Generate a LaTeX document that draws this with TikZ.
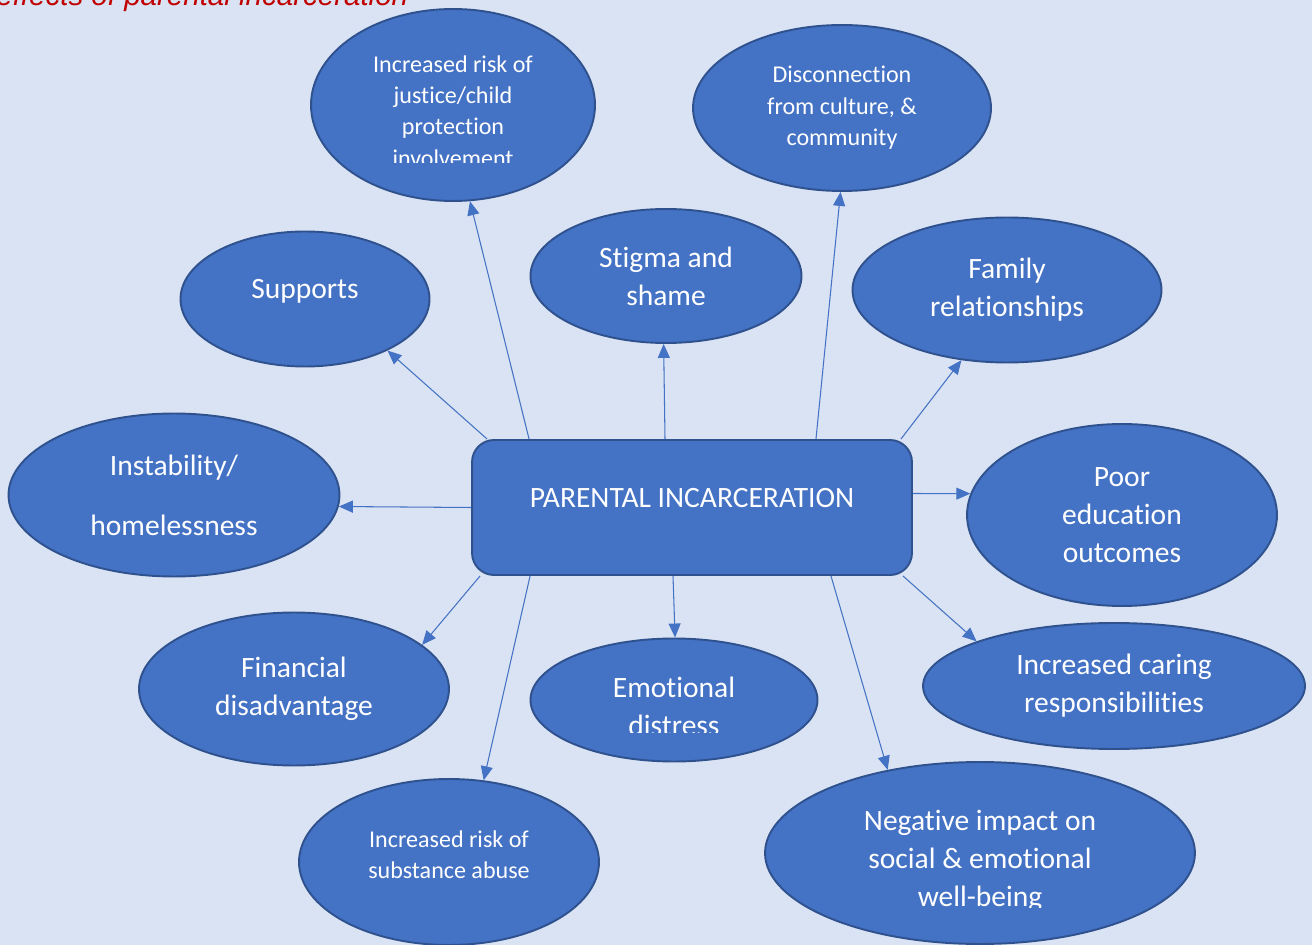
\documentclass[tikz,border=0pt]{standalone}
\usepackage{fontspec}
\setmainfont{Carlito}[Ligatures=NoCommon]
\newfontfamily\titlefont{Liberation Sans}
\usetikzlibrary{shapes.geometric,arrows.meta}

\definecolor{bgblue}{HTML}{DAE3F3}
\definecolor{shapeblue}{HTML}{4472C4}
\definecolor{edgeblue}{HTML}{2F528F}
\definecolor{titlered}{HTML}{C00000}

\begin{document}
\begin{tikzpicture}[x=0.02cm, y=-0.02cm,
    effect/.style={ellipse, draw=edgeblue, line width=1.1pt, fill=shapeblue, text=white, align=center, inner sep=0pt, font=\fontsize{16.8}{21.5}\selectfont},
    small/.style={font=\fontsize{13.7}{17.9}\selectfont},
    hub/.style={rectangle, draw=edgeblue, line width=1.1pt, fill=shapeblue, text=white, align=center, rounded corners=0.44cm, minimum width=8.8cm, minimum height=2.7cm, font=\fontsize{16.8}{21.5}\selectfont},
    cliptext/.style={text=white, align=center, inner sep=0pt},
    arrow/.style={-{Triangle[length=0.28cm, width=0.24cm]}, draw=shapeblue, line width=0.6pt}
]
    \useasboundingbox (0,0) rectangle (1312,945);
    \fill[bgblue] (0,0) rectangle (1312,945);

    % Title (cut by the page)
    \node[anchor=base west, inner sep=0pt, text=titlered, font=\titlefont\itshape\fontsize{16.8}{20}\selectfont] (title) at (-4,6) {effects of parental incarceration};

    % Top row
    \node[effect, minimum width=5.68cm, minimum height=3.84cm] (justice) at (453,105) {};
    \node[effect, small, minimum width=5.96cm, minimum height=3.32cm] (culture) at (842,108) {Disconnection\\from culture, \&\\community};
    \node[effect, minimum width=5.42cm, minimum height=2.68cm] (stigma) at (666,276) {Stigma and\\shame};
    \node[effect, minimum width=6.18cm, minimum height=2.90cm] (family) at (1007,290) {Family\\relationships};
    \node[effect, minimum width=4.98cm, minimum height=2.70cm] (supports) at (305,299) {Supports\\[-0.36cm]};

    % Middle row
    \node[effect, minimum width=6.62cm, minimum height=3.26cm] (instability) at (174,495) {Instability/\\[0.44cm]homelessness};
    \node[hub] (hub) at (692,507.5) {PARENTAL INCARCERATION\\[-0.36cm]};
    \node[effect, minimum width=6.20cm, minimum height=3.64cm] (education) at (1122,515) {Poor\\education\\outcomes};

    % Bottom rows
    \node[effect, minimum width=6.20cm, minimum height=3.06cm] (financial) at (294,689) {Financial\\disadvantage};
    \node[effect, minimum width=5.74cm, minimum height=2.46cm] (emotional) at (674,700) {};
    \node[effect, minimum width=7.64cm, minimum height=2.52cm] (caring) at (1114,686) {Increased caring\\responsibilities};
    \node[effect, small, minimum width=6.00cm, minimum height=3.32cm] (substance) at (449,862) {Increased risk of\\substance abuse\\[-0.34cm]};
    \node[effect, minimum width=8.60cm, minimum height=3.64cm] (wellbeing) at (980,853) {};

    % Texts that overflow their shapes
    \begin{scope}
        \clip (300,40) rectangle (600,163);
        \node[cliptext, small] (justicetext) at (453,111) {Increased risk of\\justice/child\\protection\\involvement};
    \end{scope}
    \begin{scope}
        \clip (520,650) rectangle (830,732);
        \node[cliptext, font=\fontsize{16.8}{21.5}\selectfont] (emotionaltext) at (674,706) {Emotional\\distress};
    \end{scope}
    \begin{scope}
        \clip (760,780) rectangle (1200,907);
        \node[cliptext, font=\fontsize{16.8}{21.5}\selectfont] (wellbeingtext) at (980,861) {Negative impact on\\social \& emotional\\well-being};
    \end{scope}

    % Arrows from the hub
    \draw[arrow] ([xshift=0.32cm]hub.north west) -- (supports.-32);
    \draw[arrow] ([xshift=1.16cm]hub.north west) -- (justice.-80);
    \draw[arrow] ([xshift=-0.54cm]hub.north) -- (stigma.-92);
    \draw[arrow] ([xshift=2.48cm]hub.north) -- (culture.-91);
    \draw[arrow] ([xshift=-0.24cm]hub.north east) -- (family.-123);
    \draw[arrow] ([yshift=0.28cm]hub.east) -- (education.172);
    \draw[arrow] ([xshift=-0.2cm]hub.south east) -- (caring.162);
    \draw[arrow] ([xshift=2.78cm]hub.south) -- (wellbeing.138);
    \draw[arrow] ([xshift=-0.38cm]hub.south) -- (emotional.89);
    \draw[arrow] ([xshift=1.18cm]hub.south west) -- (substance.67);
    \draw[arrow] ([xshift=0.18cm]hub.south west) -- (financial.19);
    \draw[arrow] (hub.west) -- (instability.-4);
\end{tikzpicture}
\end{document}
